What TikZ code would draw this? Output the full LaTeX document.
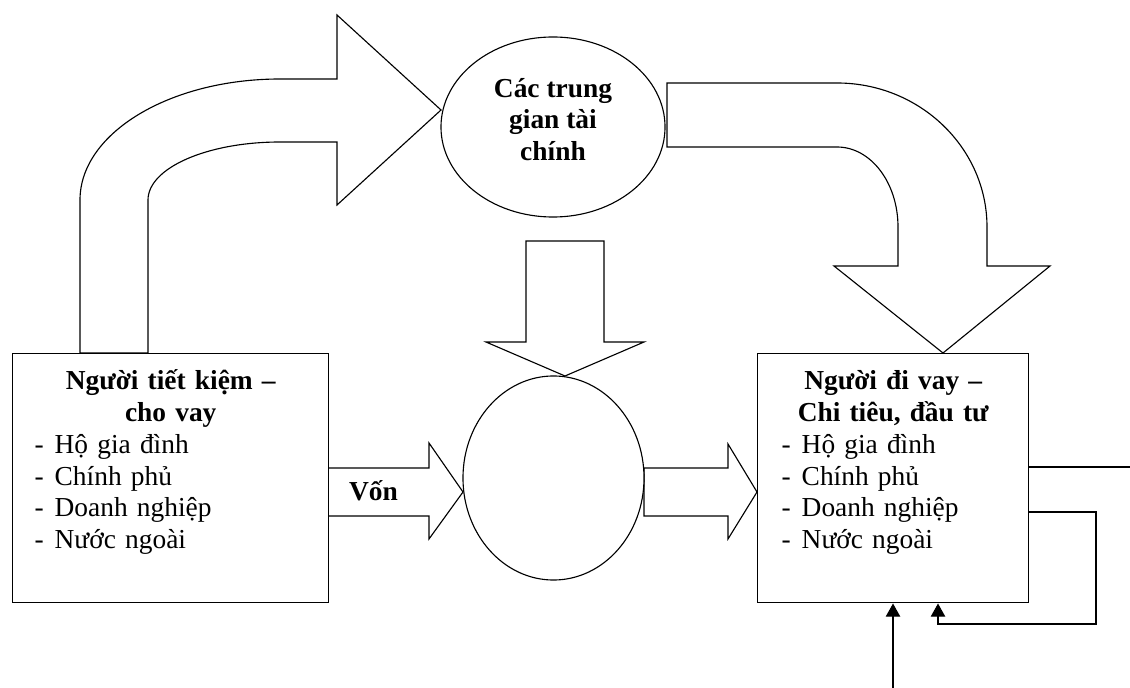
\documentclass[tikz,border=0pt]{standalone}
\usepackage{fontspec}
\setmainfont{Liberation Serif}
\usetikzlibrary{shapes.geometric, arrows.meta, positioning, calc}
\tikzset{
  listbox/.style={
    rectangle, draw=black, line width=1pt, fill=white,
    inner ysep=0pt, align=left,
    text height=0.9cm, text depth=5.325cm,
    font=\fontsize{19.5}{22.6}\selectfont},
  poolnode/.style={
    ellipse, draw=black, line width=0.8pt, fill=white,
    inner sep=0pt, align=center,
    font=\fontsize{19.5}{22.2}\selectfont\bfseries},
  bigarrow/.style={draw=black, line width=0.8pt, fill=white,
                   line join=miter},
  flow/.style={-{Triangle[length=0.33cm, width=0.36cm]},
               line width=0.8pt}
}
\newcommand{\itm}[1]{\makebox[0.5cm][l]{-}#1}

\begin{document}
\begin{tikzpicture}[x=0.025cm, y=-0.025cm]
  \useasboundingbox (0,0) rectangle (1130,688);

  %% Curved block arrow: savers -> intermediaries
  \draw[bigarrow] (80,353) -- (80,200)
    .. controls (80,133) and (170,79) .. (280,79)
    -- (337,79) -- (337,15) -- (441,110) -- (337,205) -- (337,142)
    -- (280,142) .. controls (207,142) and (148,168) .. (148,200)
    -- (148,353) -- cycle;

  %% Curved block arrow: intermediaries -> borrowers
  \draw[bigarrow] (667,83) -- (837,83)
    .. controls (920,83) and (987,148) .. (987,227)
    -- (987,266) -- (1050,266) -- (943,353) -- (834,266) -- (898,266)
    -- (898,227) .. controls (898,183) and (871,147) .. (837,147)
    -- (667,147) -- cycle;

  %% Down block arrow into the market
  \draw[bigarrow] (526,241) -- (604,241) -- (604,342) -- (644,342)
    -- (565,376) -- (486,342) -- (526,342) -- cycle;

  %% Straight block arrows
  \draw[bigarrow] (328,468) -- (429,468) -- (429,443) -- (463,492)
    -- (429,539) -- (429,516) -- (328,516) -- cycle;
  \draw[bigarrow] (644,468) -- (728,468) -- (728,444) -- (757,492)
    -- (728,539) -- (728,516) -- (644,516) -- cycle;

  %% Boxes
  \node[listbox, anchor=north west, inner xsep=0.55cm, text width=6.8cm]
    (saver) at (12,353)
    {{\centering\bfseries Người tiết kiệm –\\cho vay\par}
     \itm{Hộ gia đình}\\\itm{Chính phủ}\\\itm{Doanh nghiệp}\\\itm{Nước ngoài}};

  \node[listbox, anchor=north west, inner xsep=0.6cm, text width=5.575cm]
    (borrower) at (757,353)
    {{\centering\bfseries Người đi vay –\\Chi tiêu, đầu tư\par}
     \itm{Hộ gia đình}\\\itm{Chính phủ}\\\itm{Doanh nghiệp}\\\itm{Nước ngoài}};

  %% Ellipses
  \node[poolnode, minimum width=5.6cm, minimum height=4.5cm,
        text height=1.75cm, text depth=0.1cm]
    (inter) at (553,127) {Các trung\\gian tài\\chính};
  \node[poolnode, minimum width=4.525cm, minimum height=5.1cm]
    (market) at (553.5,478) {};

  \node[font=\fontsize{19.5}{22}\selectfont\bfseries, anchor=base,
        inner sep=0pt] (von) at (373.5,500.7) {Vốn};

  %% Thin connectors on the borrower box
  \coordinate (outR) at (1130,467);
  \coordinate (loopR) at (1096,624);
  \coordinate (inB) at (893,688);
  \draw[line width=0.8pt] (outR -| borrower.east) -- (outR);
  \draw[flow] (borrower.east |- 0,512) -| (loopR)
    -| (borrower.south -| 938,0);
  \draw[flow] (inB) -- (inB |- borrower.south);

\end{tikzpicture}
\end{document}
